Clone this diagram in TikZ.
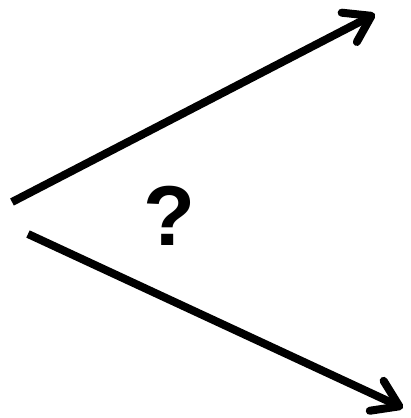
\documentclass[tikz,border=0pt]{standalone}
\usepackage{fontspec}
\setmainfont{Liberation Sans}
\usetikzlibrary{arrows.meta}

\begin{document}
\begin{tikzpicture}[
        x=1pt, y=-1pt,
        ray/.style={
        line width=8pt,
        -{Straight Barb[length=25pt, width=33pt, round]}},
        qmark/.style={
        font=\fontsize{85}{85}\selectfont\bfseries,
        inner sep=0pt},
        ]

        \useasboundingbox (0,0) rectangle (410,418);

        \coordinate (a) at (12,202);
        \coordinate (b) at (375,14);
        \coordinate (c) at (28,234);
        \coordinate (d) at (403,408);

        \draw[ray] (a) -- (b);
        \draw[ray] (c) -- (d);

        \node (q) [qmark] at (169,216){?};
    \end{tikzpicture}
\end{document}
